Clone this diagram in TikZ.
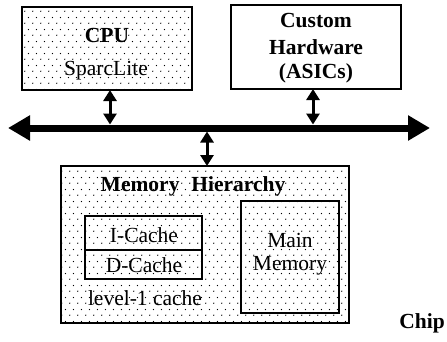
\documentclass[tikz,border=0pt]{standalone}
\usepackage{fontspec}
\setmainfont{Liberation Serif}
\usetikzlibrary{arrows.meta,patterns.meta}
\tikzdeclarepattern{
  name=stagdots,
  type=uncolored,
  bottom left={(0pt,0pt)},
  top right={(7.6pt,11.6pt)},
  tile size={(7.6pt,11.6pt)},
  code={
    \fill (1.9pt,2.9pt) circle (0.7pt);
    \fill (5.7pt,8.7pt) circle (0.7pt);
  }
}
\begin{document}
\begin{tikzpicture}[x=1pt,y=-1pt,
  dotted box/.style={draw=black, line width=1.8pt, pattern=stagdots, pattern color=black},
  plain box/.style={draw=black, line width=1.8pt},
  lbl/.style={font=\fontsize{21.5}{23}\selectfont\bfseries, inner sep=0pt},
  txt/.style={font=\fontsize{21.5}{23}\selectfont, inner sep=0pt},
  bus/.style={line width=7pt, {Triangle[length=22pt,width=24pt]}-{Triangle[length=22pt,width=24pt]}},
  link/.style={line width=3pt, {Triangle[length=11pt,width=13pt]}-{Triangle[length=11pt,width=13pt]}}
]
\useasboundingbox (0,0) rectangle (447,341);
% boxes
\path[dotted box] (22,7) rectangle (192,90);
\coordinate (cpu) at (110,90);
\path[plain box] (231,5) rectangle (401,89);
\coordinate (asic) at (313,89);
\path[dotted box] (61,166) rectangle (349,323);
\coordinate (mem) at (207,166);
\path[plain box] (85,216) rectangle (202,279);
\draw[line width=1.5pt] (85,250) -- (202,250);
\path[plain box] (241,201) rectangle (339,313);
% texts
\node[lbl] (t1) at (107,35) {CPU};
\node[txt] (t2) at (106,71) {SparcLite};
\node[lbl] (t3) at (316,21) {Custom};
\node[lbl] (t4) at (316,47) {Hardware};
\node[lbl] (t5) at (316,73) {(ASICs)};
\node[lbl] (t6) at (193,186) {Memory\hspace{0.3em} Hierarchy};
\node[txt] (t7) at (144,235) {I-Cache};
\node[txt] (t8) at (144,265) {D-Cache};
\node[txt] (t9) at (145,298) {level-1 cache};
\node[txt] (t10) at (290,240) {Main};
\node[txt] (t11) at (290,266) {Memory};
\node[lbl] (chip) at (422,323) {Chip};
% bus
\coordinate (bl) at (8,128);
\coordinate (br) at (430,128);
\draw[bus] (bl) -- (br);
\coordinate (b1) at (110,124.5);
\coordinate (b2) at (313,124.5);
\coordinate (b3) at (207,131.5);
\draw[link] (cpu) -- (b1);
\draw[link] (asic) -- (b2);
\draw[link] (b3) -- (mem);
\end{tikzpicture}
\end{document}
